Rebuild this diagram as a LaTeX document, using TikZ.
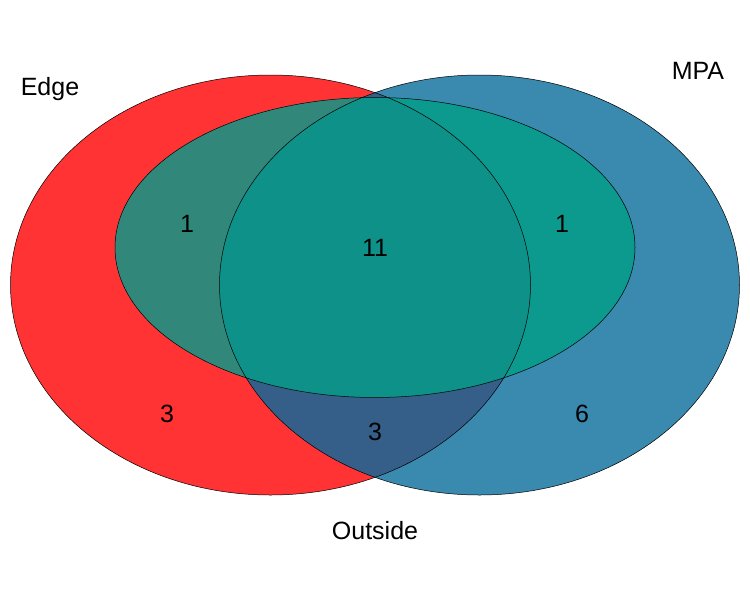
\documentclass[tikz,border=0pt]{standalone}
\usepackage{fontspec}
\setmainfont{Liberation Sans}
\definecolor{cRed}{HTML}{FF3333}
\definecolor{cBlue}{HTML}{3A89AE}
\definecolor{cLR}{HTML}{355F88}
\definecolor{cMR}{HTML}{0C9A8F}
\definecolor{cLM}{HTML}{31887A}
\definecolor{cLMR}{HTML}{0D9188}
\tikzset{
  lbl/.style={font=\fontsize{25}{27}\selectfont, text=black, inner sep=0pt},
  outline/.style={draw=black, line width=0.5pt}
}
\def\Lell{(270.5,285) ellipse [x radius=260, y radius=210]}
\def\Rell{(479.5,285) ellipse [x radius=260, y radius=210]}
\def\Mell{(375,247.5) ellipse [x radius=260, y radius=150]}
\begin{document}
\begin{tikzpicture}[x=1pt,y=-1pt]
\useasboundingbox (0,0) rectangle (750,600);
\fill[cRed] \Lell;
\fill[cBlue] \Rell;
\begin{scope}
  \clip \Lell;
  \fill[cLR] \Rell;
\end{scope}
\begin{scope}
  \clip \Mell;
  \fill[cMR] \Mell;
  \fill[cLM] \Lell;
  \begin{scope}
    \clip \Lell;
    \fill[cLMR] \Rell;
  \end{scope}
\end{scope}
\draw[outline] \Lell;
\draw[outline] \Rell;
\draw[outline] \Mell;
\node[lbl] (edge) at (50,89) {Edge};
\node[lbl] (mpa) at (698,71) {MPA};
\node[lbl] (outside) at (375,531) {Outside};
\node[lbl] (n1) at (187,224) {1};
\node[lbl] (n2) at (375,248) {11};
\node[lbl] (n3) at (562,224) {1};
\node[lbl] (n4) at (167,414) {3};
\node[lbl] (n5) at (375,432) {3};
\node[lbl] (n6) at (582,414) {6};
\end{tikzpicture}
\end{document}
